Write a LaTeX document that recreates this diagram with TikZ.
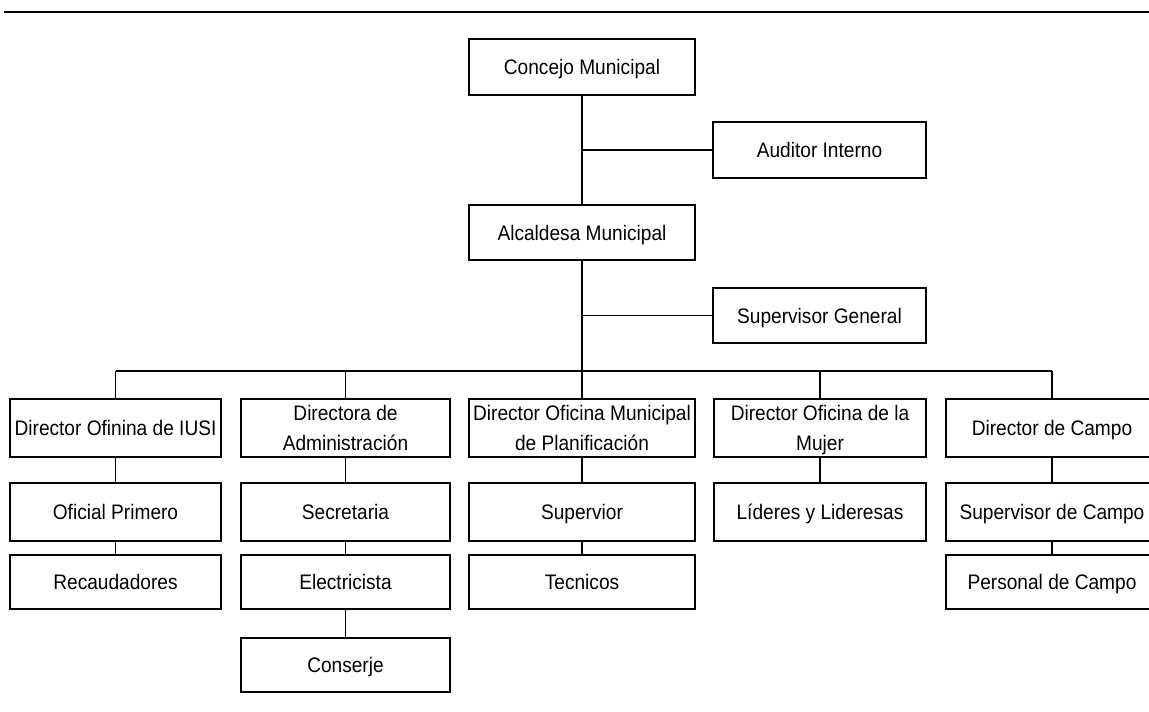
\documentclass[tikz,border=0pt]{standalone}
\usepackage{fontspec}
\setmainfont[FakeStretch=0.91]{Liberation Sans}
\begin{document}
\begin{tikzpicture}[x=1pt,y=-1pt,
  box/.style={draw,line width=1.6pt,inner sep=0pt,align=center,text depth=0pt,
    font=\fontsize{21}{30}\selectfont},
  link/.style={line width=1.6pt}]
\useasboundingbox (0,0) rectangle (1149,712);
\draw[line width=2.6pt] (4,12) -- (1149,12);
% top
\node[box,minimum width=226,minimum height=56] (concejo) at (582,67) {Concejo Municipal};
\node[box,minimum width=213,minimum height=56] (auditor) at (819.5,150) {Auditor Interno};
\node[box,minimum width=226,minimum height=55] (alcaldesa) at (582,232.5) {Alcaldesa Municipal};
\node[box,minimum width=213,minimum height=55] (supgen) at (819.5,315.5) {Supervisor General};
% directors
\node[box,minimum width=211,minimum height=58] (d1) at (115.5,428) {Director Ofinina de IUSI};
\node[box,minimum width=209,minimum height=58] (d2) at (345.5,428) {Directora de\\Administración};
\node[box,minimum width=226,minimum height=58] (d3) at (582,428) {Director Oficina Municipal\\de Planificación};
\node[box,minimum width=212,minimum height=58] (d4) at (820,428) {Director Oficina de la\\Mujer};
\node[box,minimum width=212,minimum height=58] (d5) at (1052,428) {Director de Campo};
% row 2
\node[box,minimum width=211,minimum height=58] (r1a) at (115.5,512) {Oficial Primero};
\node[box,minimum width=209,minimum height=58] (r2a) at (345.5,512) {Secretaria};
\node[box,minimum width=226,minimum height=58] (r3a) at (582,512) {Supervior};
\node[box,minimum width=212,minimum height=58] (r4a) at (820,512) {Líderes y Lideresas};
\node[box,minimum width=212,minimum height=58] (r5a) at (1052,512) {Supervisor de Campo};
% row 3
\node[box,minimum width=211,minimum height=54] (r1b) at (115.5,582) {Recaudadores};
\node[box,minimum width=209,minimum height=54] (r2b) at (345.5,582) {Electricista};
\node[box,minimum width=226,minimum height=54] (r3b) at (582,582) {Tecnicos};
\node[box,minimum width=212,minimum height=54] (r5b) at (1052,582) {Personal de Campo};
% row 4
\node[box,minimum width=209,minimum height=54] (r2c) at (345.5,665) {Conserje};
% connectors
\coordinate (bus) at (582,371);
\draw[link] (concejo.south) -- (alcaldesa.north);
\draw[link] (auditor.west) -- (auditor.west -| concejo.south);
\draw[link] (alcaldesa.south) -- (bus);
\draw[link] (supgen.west) -- (supgen.west -| alcaldesa.south);
\draw[link] (d1.north |- bus) -- (d5.north |- bus);
\foreach \n in {d1,d2,d3,d4,d5}{\draw[link] (\n.north) -- (\n.north |- bus);}
\draw[link] (d1) -- (r1a); \draw[link] (r1a) -- (r1b);
\draw[link] (d2) -- (r2a); \draw[link] (r2a) -- (r2b); \draw[link] (r2b) -- (r2c);
\draw[link] (d3) -- (r3a); \draw[link] (r3a) -- (r3b);
\draw[link] (d4) -- (r4a);
\draw[link] (d5) -- (r5a); \draw[link] (r5a) -- (r5b);
\end{tikzpicture}
\end{document}
